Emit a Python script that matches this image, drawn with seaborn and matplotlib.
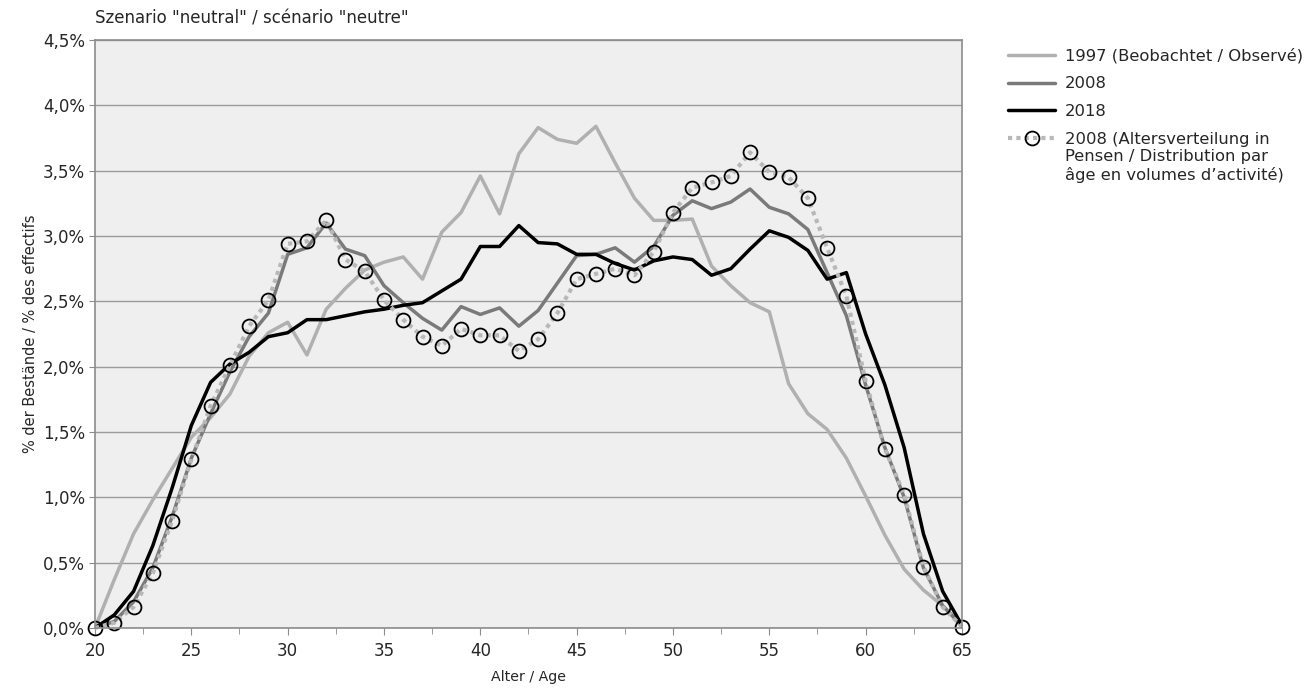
import numpy as np
import pandas as pd
import matplotlib
matplotlib.use("Agg")
import matplotlib.pyplot as plt
import seaborn as sns
from matplotlib.ticker import FuncFormatter, MultipleLocator

ages = list(range(20, 66))

s1997 = [0.00, 0.37, 0.72, 0.98, 1.22, 1.46, 1.61, 1.79, 2.08, 2.26,
         2.34, 2.09, 2.44, 2.60, 2.74, 2.80, 2.84, 2.67, 3.03, 3.18,
         3.46, 3.17, 3.63, 3.83, 3.74, 3.71, 3.84, 3.56, 3.29, 3.12,
         3.12, 3.13, 2.77, 2.62, 2.49, 2.42, 1.87, 1.64, 1.52, 1.30,
         1.01, 0.71, 0.45, 0.29, 0.17, 0.01]
s2008 = [0.00, 0.05, 0.20, 0.46, 0.85, 1.30, 1.64, 1.96, 2.23, 2.41,
         2.86, 2.91, 3.10, 2.90, 2.85, 2.62, 2.49, 2.37, 2.28, 2.46,
         2.40, 2.45, 2.31, 2.43, 2.64, 2.85, 2.86, 2.91, 2.80, 2.92,
         3.16, 3.27, 3.21, 3.26, 3.36, 3.22, 3.17, 3.05, 2.72, 2.39,
         1.86, 1.38, 1.00, 0.46, 0.17, 0.02]
s2018 = [0.00, 0.10, 0.28, 0.63, 1.07, 1.55, 1.88, 2.02, 2.11, 2.23,
         2.26, 2.36, 2.36, 2.39, 2.42, 2.44, 2.47, 2.49, 2.58, 2.67,
         2.92, 2.92, 3.08, 2.95, 2.94, 2.86, 2.86, 2.79, 2.74, 2.81,
         2.84, 2.82, 2.70, 2.75, 2.90, 3.04, 2.99, 2.89, 2.67, 2.72,
         2.25, 1.86, 1.38, 0.72, 0.28, 0.02]
s2008_pensen = [0.00, 0.04, 0.16, 0.42, 0.82, 1.29, 1.70, 2.01, 2.31, 2.51,
                2.94, 2.96, 3.12, 2.82, 2.73, 2.51, 2.36, 2.23, 2.16, 2.29,
                2.24, 2.24, 2.12, 2.21, 2.41, 2.67, 2.71, 2.75, 2.70, 2.88,
                3.18, 3.37, 3.41, 3.46, 3.64, 3.49, 3.45, 3.29, 2.91, 2.54,
                1.89, 1.37, 1.02, 0.47, 0.16, 0.01]

labels = ["1997 (Beobachtet / Observé)", "2008", "2018",
          "2008 (Altersverteilung in\nPensen / Distribution par\nâge en volumes d\u2019activité)"]

sns.set_style("ticks")
plt.rcParams['font.family'] = ['DejaVu Sans']

fig = plt.figure(figsize=(13.14, 6.9), dpi=100)
ax = fig.add_axes([0.0723, 0.0899, 0.6598, 0.852])
ax.set_facecolor("#efefef")

sns.lineplot(x=ages, y=s1997, ax=ax, color="#b0b0b0", lw=2.5, label=labels[0])
sns.lineplot(x=ages, y=s2008, ax=ax, color="#7a7a7a", lw=2.5, label=labels[1])
sns.lineplot(x=ages, y=s2018, ax=ax, color="black", lw=2.5, label=labels[2])
sns.lineplot(x=ages, y=s2008_pensen, ax=ax, color="#b8b8b8", lw=3.0,
             linestyle=(0, (1, 1)), marker="o", markersize=10,
             markerfacecolor="none", markeredgecolor="black",
             markeredgewidth=1.3, clip_on=False, label=labels[3])

ax.set_xlim(20, 65)
ax.set_ylim(0, 4.5)
ax.xaxis.set_major_locator(MultipleLocator(5))
ax.xaxis.set_minor_locator(MultipleLocator(2.5))
ax.yaxis.set_major_locator(MultipleLocator(0.5))
ax.yaxis.set_major_formatter(FuncFormatter(lambda v, p: f"{v:.1f}%".replace(".", ",")))
ax.grid(axis="y", color="#9a9a9a", lw=1.0)
ax.set_axisbelow(True)
for sp in ax.spines.values():
    sp.set_visible(True)
    sp.set_color("#8c8c8c")
    sp.set_linewidth(1.2)
ax.tick_params(axis="both", which="both", color="#8c8c8c", labelsize=12, direction="out")
ax.tick_params(axis="x", which="major", length=5, pad=5)
ax.tick_params(axis="x", which="minor", length=4)
ax.tick_params(axis="y", length=4, pad=3)

ax.set_xlabel("Alter / Age", fontsize=10.2, labelpad=7)
ax.set_ylabel("% der Bestände / % des effectifs", fontsize=10.5, labelpad=4)
ax.text(0.0, 1.022, 'Szenario "neutral" / scénario "neutre"', transform=ax.transAxes,
        fontsize=12, ha="left", va="bottom")

leg = ax.legend(loc="upper left", bbox_to_anchor=(0.762, 0.94),
                bbox_transform=fig.transFigure, frameon=False, fontsize=11.8,
                handlelength=2.9, handletextpad=0.6, labelspacing=0.78,
                borderaxespad=0)
rows = leg._legend_handle_box.get_children()[0].get_children()
rows[-1].align = "top"

fig.savefig("out.png", dpi=100)
